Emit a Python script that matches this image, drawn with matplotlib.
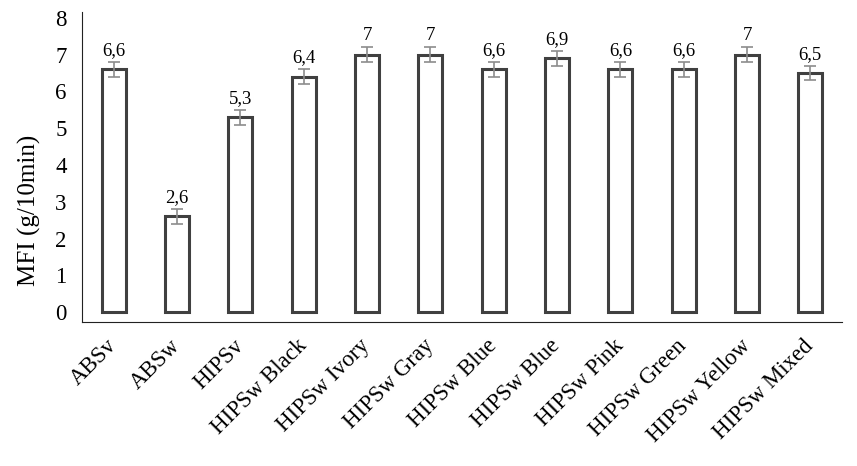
import numpy as np
import matplotlib.pyplot as plt

plt.rcParams['font.family'] = ['Liberation Serif', 'DejaVu Serif']

samples = ['ABSv', 'ABSw', 'HIPSv', 'HIPSw Black', 'HIPSw Ivory', 'HIPSw Gray',
           'HIPSw Blue', 'HIPSw Blue', 'HIPSw Pink', 'HIPSw Green', 'HIPSw Yellow', 'HIPSw Mixed']
mfi = [6.6, 2.6, 5.3, 6.4, 7.0, 7.0, 6.6, 6.9, 6.6, 6.6, 7.0, 6.5]
err = [0.2, 0.2, 0.2, 0.2, 0.2, 0.2, 0.2, 0.2, 0.2, 0.2, 0.2, 0.2]
labels = ['6,6', '2,6', '5,3', '6,4', '7', '7', '6,6', '6,9', '6,6', '6,6', '7', '6,5']

fig = plt.figure(figsize=(8.57, 4.66), dpi=100)
ax = fig.add_axes([82/857, (466-322)/466, (842-82)/857, (322-12)/466])
x = np.arange(len(samples))
ax.bar(x, mfi, width=0.38, color='white', edgecolor='#404040', linewidth=2.2)
ax.errorbar(x, mfi, yerr=err, fmt='none', ecolor='#8c8c8c', elinewidth=1.2, capsize=4, capthick=1.2)
for xi, v, e, t in zip(x, mfi, err, labels):
    ax.text(xi, v + e + 0.08, t, ha='center', va='bottom', fontsize=13.5)

ax.set_xlim(-0.5, len(samples) - 0.5)
ax.set_ylim(-0.27, 8.16)
ax.set_yticks(range(0, 9))
ax.tick_params(axis='y', length=0, labelsize=16.5, pad=11)
ax.tick_params(axis='x', length=0, labelsize=16.5, pad=15)
ax.set_xticks(x)
ax.set_xticklabels(samples, rotation=45, ha='right', va='center', rotation_mode='anchor')
ax.set_ylabel('MFI (g/10min)', fontsize=18, va='center')
ax.yaxis.set_label_coords(-0.069, 0.36)
ax.spines['top'].set_visible(False)
ax.spines['right'].set_visible(False)
ax.spines['left'].set_color('#222222')
ax.spines['bottom'].set_color('#222222')

fig.savefig('out.png', dpi=100)
